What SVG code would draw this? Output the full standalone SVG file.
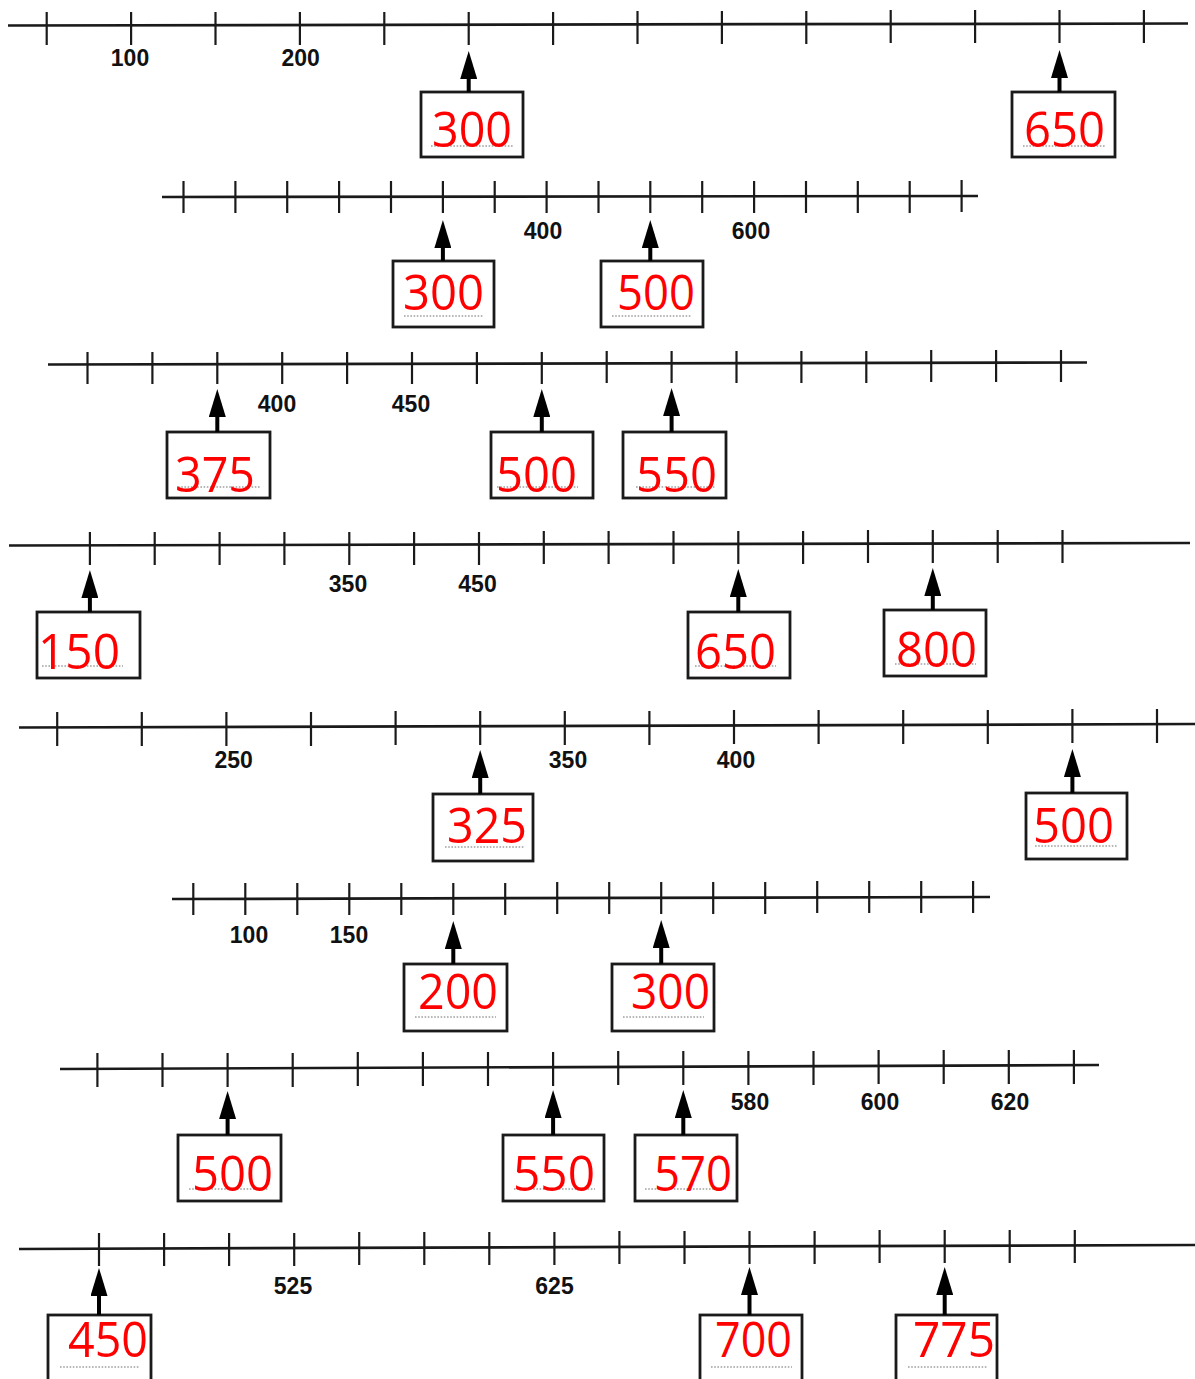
<svg xmlns="http://www.w3.org/2000/svg" width="1195" height="1379" viewBox="0 0 1195 1379">
<style>
.axis{stroke:#1a1a1a;stroke-width:2.7;fill:none}
.tick{stroke:#1a1a1a;stroke-width:2.2}
.lbl{font-family:"Liberation Sans",Arial,sans-serif;font-weight:bold;font-size:23px;fill:#111;text-anchor:middle}
.box{fill:#fff;stroke:#1a1a1a;stroke-width:2.8}
.ans{font-family:"Open Sans","Liberation Sans",sans-serif;font-size:50px;fill:#ff0000}
.dot{stroke:#a0a0a0;stroke-width:1.6;stroke-dasharray:1.6 1.6}
.arr{stroke:#000;stroke-width:4;fill:none;marker-end:url(#ah)}
</style>
<defs>
<marker id="ah" markerUnits="userSpaceOnUse" markerWidth="28" markerHeight="17" refX="1" refY="8.5" orient="auto" viewBox="0 0 28 17">
<path d="M0,0 L28,8.5 L0,17 z" fill="#000"/>
</marker>
</defs>
<rect width="1195" height="1379" fill="#fff"/>

<!-- Number line 1 -->
<g id="line1">
<line class="axis" x1="8" y1="25.5" x2="1188" y2="23.5"/>
<g class="tick">
<line x1="46.7" y1="12" x2="46.7" y2="45"/><line x1="131.1" y1="12" x2="131.1" y2="45"/><line x1="215.5" y1="12" x2="215.5" y2="45"/><line x1="299.9" y1="12" x2="299.9" y2="45"/><line x1="384.3" y1="12" x2="384.3" y2="45"/><line x1="468.7" y1="12" x2="468.7" y2="45"/><line x1="553.1" y1="12" x2="553.1" y2="45"/><line x1="637.5" y1="11" x2="637.5" y2="44"/><line x1="721.9" y1="11" x2="721.9" y2="44"/><line x1="806.3" y1="11" x2="806.3" y2="44"/><line x1="890.7" y1="10" x2="890.7" y2="43"/><line x1="975.1" y1="10" x2="975.1" y2="43"/><line x1="1059.5" y1="10" x2="1059.5" y2="43"/><line x1="1143.9" y1="10" x2="1143.9" y2="43"/>
</g>
<text class="lbl" x="130" y="66">100</text>
<text class="lbl" x="300.6" y="66">200</text>
</g>

<!-- Number line 2 -->
<g id="line2">
<line class="axis" x1="162" y1="197" x2="978" y2="196"/>
<g class="tick">
<line x1="183.5" y1="181" x2="183.5" y2="213"/><line x1="235.4" y1="181" x2="235.4" y2="213"/><line x1="287.2" y1="181" x2="287.2" y2="213"/><line x1="339.1" y1="181" x2="339.1" y2="213"/><line x1="391" y1="181" x2="391" y2="213"/><line x1="442.9" y1="181" x2="442.9" y2="213"/><line x1="494.7" y1="181" x2="494.7" y2="213"/><line x1="546.6" y1="181" x2="546.6" y2="213"/><line x1="598.5" y1="181" x2="598.5" y2="213"/><line x1="650.3" y1="181" x2="650.3" y2="213"/><line x1="702.2" y1="181" x2="702.2" y2="213"/><line x1="754.1" y1="181" x2="754.1" y2="213"/><line x1="806" y1="181" x2="806" y2="213"/><line x1="857.8" y1="181" x2="857.8" y2="213"/><line x1="909.7" y1="181" x2="909.7" y2="213"/><line x1="961.6" y1="180" x2="961.6" y2="212"/>
</g>
<text class="lbl" x="543" y="239">400</text>
<text class="lbl" x="751" y="239">600</text>
</g>

<!-- Number line 3 -->
<g id="line3">
<line class="axis" x1="48" y1="364.5" x2="1087" y2="362.5"/>
<g class="tick">
<line x1="87.5" y1="352" x2="87.5" y2="384"/><line x1="152.4" y1="352" x2="152.4" y2="384"/><line x1="217.3" y1="352" x2="217.3" y2="384"/><line x1="282.2" y1="352" x2="282.2" y2="384"/><line x1="347.1" y1="352" x2="347.1" y2="384"/><line x1="412" y1="352" x2="412" y2="384"/><line x1="476.9" y1="352" x2="476.9" y2="384"/><line x1="541.8" y1="352" x2="541.8" y2="384"/><line x1="606.7" y1="351" x2="606.7" y2="383"/><line x1="671.6" y1="351" x2="671.6" y2="383"/><line x1="736.5" y1="351" x2="736.5" y2="383"/><line x1="801.4" y1="351" x2="801.4" y2="383"/><line x1="866.3" y1="351" x2="866.3" y2="383"/><line x1="931.2" y1="350" x2="931.2" y2="382"/><line x1="996.1" y1="350" x2="996.1" y2="382"/><line x1="1061" y1="350" x2="1061" y2="382"/>
</g>
<text class="lbl" x="277" y="412">400</text>
<text class="lbl" x="411" y="412">450</text>
</g>

<!-- Number line 4 -->
<g id="line4">
<line class="axis" x1="9" y1="545.5" x2="1190" y2="543"/>
<g class="tick">
<line x1="89.9" y1="532" x2="89.9" y2="565"/><line x1="154.7" y1="532" x2="154.7" y2="565"/><line x1="219.6" y1="532" x2="219.6" y2="565"/><line x1="284.4" y1="532" x2="284.4" y2="565"/><line x1="349.3" y1="532" x2="349.3" y2="565"/><line x1="414.1" y1="532" x2="414.1" y2="565"/><line x1="479" y1="532" x2="479" y2="565"/><line x1="543.8" y1="531" x2="543.8" y2="564"/><line x1="608.6" y1="531" x2="608.6" y2="564"/><line x1="673.5" y1="531" x2="673.5" y2="564"/><line x1="738.3" y1="531" x2="738.3" y2="564"/><line x1="803.1" y1="531" x2="803.1" y2="564"/><line x1="868" y1="530" x2="868" y2="563"/><line x1="932.8" y1="530" x2="932.8" y2="563"/><line x1="997.7" y1="530" x2="997.7" y2="563"/><line x1="1062.5" y1="530" x2="1062.5" y2="563"/>
</g>
<text class="lbl" x="348" y="592">350</text>
<text class="lbl" x="477.5" y="592">450</text>
</g>

<!-- Number line 5 -->
<g id="line5">
<line class="axis" x1="19" y1="727.5" x2="1195" y2="724"/>
<g class="tick">
<line x1="57.2" y1="712" x2="57.2" y2="746"/><line x1="141.8" y1="712" x2="141.8" y2="746"/><line x1="226.4" y1="712" x2="226.4" y2="746"/><line x1="311" y1="712" x2="311" y2="746"/><line x1="395.6" y1="711" x2="395.6" y2="745"/><line x1="480.2" y1="711" x2="480.2" y2="745"/><line x1="564.8" y1="711" x2="564.8" y2="745"/><line x1="649.4" y1="711" x2="649.4" y2="745"/><line x1="734" y1="710" x2="734" y2="744"/><line x1="818.6" y1="710" x2="818.6" y2="744"/><line x1="903.2" y1="710" x2="903.2" y2="744"/><line x1="987.8" y1="710" x2="987.8" y2="744"/><line x1="1072.4" y1="709" x2="1072.4" y2="743"/><line x1="1157" y1="709" x2="1157" y2="743"/>
</g>
<text class="lbl" x="233.6" y="768">250</text>
<text class="lbl" x="568" y="768">350</text>
<text class="lbl" x="736" y="768">400</text>
</g>

<!-- Number line 6 -->
<g id="line6">
<line class="axis" x1="172" y1="899" x2="990" y2="897"/>
<g class="tick">
<line x1="193.3" y1="883" x2="193.3" y2="915"/><line x1="245.3" y1="883" x2="245.3" y2="915"/><line x1="297.3" y1="883" x2="297.3" y2="915"/><line x1="349.3" y1="883" x2="349.3" y2="915"/><line x1="401.3" y1="883" x2="401.3" y2="915"/><line x1="453.3" y1="883" x2="453.3" y2="915"/><line x1="505.2" y1="883" x2="505.2" y2="915"/><line x1="557.2" y1="882" x2="557.2" y2="914"/><line x1="609.2" y1="882" x2="609.2" y2="914"/><line x1="661.2" y1="882" x2="661.2" y2="914"/><line x1="713.2" y1="882" x2="713.2" y2="914"/><line x1="765.2" y1="882" x2="765.2" y2="914"/><line x1="817.2" y1="881" x2="817.2" y2="913"/><line x1="869.2" y1="881" x2="869.2" y2="913"/><line x1="921.2" y1="881" x2="921.2" y2="913"/><line x1="973.1" y1="881" x2="973.1" y2="913"/>
</g>
<text class="lbl" x="249" y="943">100</text>
<text class="lbl" x="349" y="943">150</text>
</g>

<!-- Number line 7 -->
<g id="line7">
<line class="axis" x1="60" y1="1069" x2="1099" y2="1065"/>
<g class="tick">
<line x1="97.4" y1="1053" x2="97.4" y2="1087"/><line x1="162.5" y1="1053" x2="162.5" y2="1087"/><line x1="227.6" y1="1053" x2="227.6" y2="1087"/><line x1="292.7" y1="1053" x2="292.7" y2="1087"/><line x1="357.8" y1="1052" x2="357.8" y2="1086"/><line x1="422.9" y1="1052" x2="422.9" y2="1086"/><line x1="488" y1="1052" x2="488" y2="1086"/><line x1="553.1" y1="1052" x2="553.1" y2="1086"/><line x1="618.2" y1="1051" x2="618.2" y2="1085"/><line x1="683.3" y1="1051" x2="683.3" y2="1085"/><line x1="748.4" y1="1051" x2="748.4" y2="1085"/><line x1="813.5" y1="1051" x2="813.5" y2="1085"/><line x1="878.6" y1="1050" x2="878.6" y2="1084"/><line x1="943.7" y1="1050" x2="943.7" y2="1084"/><line x1="1008.8" y1="1050" x2="1008.8" y2="1084"/><line x1="1073.9" y1="1050" x2="1073.9" y2="1084"/>
</g>
<text class="lbl" x="750" y="1110">580</text>
<text class="lbl" x="880" y="1110">600</text>
<text class="lbl" x="1010" y="1110">620</text>
</g>

<!-- Number line 8 -->
<g id="line8">
<line class="axis" x1="19" y1="1249" x2="1195" y2="1245"/>
<g class="tick">
<line x1="99" y1="1233" x2="99" y2="1266"/><line x1="164.1" y1="1233" x2="164.1" y2="1266"/><line x1="229.1" y1="1233" x2="229.1" y2="1266"/><line x1="294.2" y1="1233" x2="294.2" y2="1266"/><line x1="359.2" y1="1232" x2="359.2" y2="1265"/><line x1="424.3" y1="1232" x2="424.3" y2="1265"/><line x1="489.3" y1="1232" x2="489.3" y2="1265"/><line x1="554.4" y1="1232" x2="554.4" y2="1265"/><line x1="619.4" y1="1231" x2="619.4" y2="1264"/><line x1="684.5" y1="1231" x2="684.5" y2="1264"/><line x1="749.5" y1="1231" x2="749.5" y2="1264"/><line x1="814.6" y1="1231" x2="814.6" y2="1264"/><line x1="879.6" y1="1230" x2="879.6" y2="1263"/><line x1="944.7" y1="1230" x2="944.7" y2="1263"/><line x1="1009.7" y1="1230" x2="1009.7" y2="1263"/><line x1="1074.8" y1="1230" x2="1074.8" y2="1263"/>
</g>
<text class="lbl" x="293" y="1294">525</text>
<text class="lbl" x="554.5" y="1294">625</text>
</g>

<!-- Answer boxes -->
<g id="box-1a"><rect class="box" x="421" y="92" width="102" height="65"/><line class="dot" x1="431" y1="146" x2="513" y2="146"/><text class="ans" x="432" y="147" textLength="80" lengthAdjust="spacingAndGlyphs">300</text></g>
<g id="box-1b"><rect class="box" x="1012" y="92" width="103" height="65"/><line class="dot" x1="1023" y1="146" x2="1105" y2="146"/><text class="ans" x="1024" y="147" textLength="81" lengthAdjust="spacingAndGlyphs">650</text></g>

<g id="box-2a"><rect class="box" x="393" y="261" width="101" height="66"/><line class="dot" x1="404" y1="316" x2="484" y2="316"/><text class="ans" x="403" y="310" textLength="81" lengthAdjust="spacingAndGlyphs">300</text></g>
<g id="box-2b"><rect class="box" x="601" y="261" width="102" height="66"/><line class="dot" x1="612" y1="316" x2="692" y2="316"/><text class="ans" x="617" y="310" textLength="78" lengthAdjust="spacingAndGlyphs">500</text></g>

<g id="box-3a"><rect class="box" x="167" y="432" width="103" height="66"/><line class="dot" x1="178" y1="487" x2="260" y2="487"/><text class="ans" x="175" y="492" textLength="80" lengthAdjust="spacingAndGlyphs">375</text></g>
<g id="box-3b"><rect class="box" x="491" y="432" width="102" height="66"/><line class="dot" x1="497" y1="487" x2="578" y2="487"/><text class="ans" x="496" y="492" textLength="81" lengthAdjust="spacingAndGlyphs">500</text></g>
<g id="box-3c"><rect class="box" x="623" y="432" width="103" height="66"/><line class="dot" x1="636" y1="487" x2="716" y2="487"/><text class="ans" x="636" y="492" textLength="81" lengthAdjust="spacingAndGlyphs">550</text></g>

<g id="box-4a"><rect class="box" x="37" y="612" width="103" height="66"/><line class="dot" x1="42" y1="666" x2="123" y2="666"/><text class="ans" x="38" y="669" textLength="82" lengthAdjust="spacingAndGlyphs">150</text></g>
<g id="box-4b"><rect class="box" x="688" y="612" width="102" height="66"/><line class="dot" x1="695" y1="666" x2="776" y2="666"/><text class="ans" x="695" y="669" textLength="81" lengthAdjust="spacingAndGlyphs">650</text></g>
<g id="box-4c"><rect class="box" x="884" y="610" width="102" height="66"/><line class="dot" x1="895" y1="664" x2="976" y2="664"/><text class="ans" x="896" y="667" textLength="81" lengthAdjust="spacingAndGlyphs">800</text></g>

<g id="box-5a"><rect class="box" x="433" y="794" width="100" height="67"/><line class="dot" x1="445" y1="847" x2="525" y2="847"/><text class="ans" x="447" y="843" textLength="80" lengthAdjust="spacingAndGlyphs">325</text></g>
<g id="box-5b"><rect class="box" x="1026" y="793" width="101" height="66"/><line class="dot" x1="1035" y1="846" x2="1117" y2="846"/><text class="ans" x="1033" y="843" textLength="81" lengthAdjust="spacingAndGlyphs">500</text></g>

<g id="box-6a"><rect class="box" x="404" y="964" width="103" height="67"/><line class="dot" x1="415" y1="1017" x2="496" y2="1017"/><text class="ans" x="418" y="1009" textLength="80" lengthAdjust="spacingAndGlyphs">200</text></g>
<g id="box-6b"><rect class="box" x="612" y="964" width="102" height="67"/><line class="dot" x1="623" y1="1017" x2="704" y2="1017"/><text class="ans" x="631" y="1009" textLength="79" lengthAdjust="spacingAndGlyphs">300</text></g>

<g id="box-7a"><rect class="box" x="178" y="1135" width="103" height="66"/><line class="dot" x1="189" y1="1189" x2="269" y2="1189"/><text class="ans" x="192" y="1191" textLength="81" lengthAdjust="spacingAndGlyphs">500</text></g>
<g id="box-7b"><rect class="box" x="503" y="1135" width="101" height="66"/><line class="dot" x1="514" y1="1189" x2="595" y2="1189"/><text class="ans" x="513" y="1191" textLength="82" lengthAdjust="spacingAndGlyphs">550</text></g>
<g id="box-7c"><rect class="box" x="635" y="1135" width="102" height="66"/><line class="dot" x1="645" y1="1189" x2="726" y2="1189"/><text class="ans" x="654" y="1191" textLength="78" lengthAdjust="spacingAndGlyphs">570</text></g>

<g id="box-8a"><rect class="box" x="48" y="1315" width="103" height="80"/><line class="dot" x1="60" y1="1367" x2="140" y2="1367"/><text class="ans" x="68" y="1357" textLength="80" lengthAdjust="spacingAndGlyphs">450</text></g>
<g id="box-8b"><rect class="box" x="700" y="1315" width="102" height="80"/><line class="dot" x1="711" y1="1367" x2="792" y2="1367"/><text class="ans" x="715" y="1357" textLength="77" lengthAdjust="spacingAndGlyphs">700</text></g>
<g id="box-8c"><rect class="box" x="896" y="1315" width="101" height="80"/><line class="dot" x1="908" y1="1367" x2="988" y2="1367"/><text class="ans" x="913" y="1357" textLength="82" lengthAdjust="spacingAndGlyphs">775</text></g>

<!-- Connectors (arrows) -->
<g id="connectors">
<line class="arr" x1="468.7" y1="92" x2="468.7" y2="78"/>
<line class="arr" x1="1059.5" y1="92" x2="1059.5" y2="77"/>
<line class="arr" x1="442.9" y1="261" x2="442.9" y2="247"/>
<line class="arr" x1="650.3" y1="261" x2="650.3" y2="247"/>
<line class="arr" x1="217.3" y1="432" x2="217.3" y2="416"/>
<line class="arr" x1="541.8" y1="432" x2="541.8" y2="416"/>
<line class="arr" x1="671.6" y1="432" x2="671.6" y2="415"/>
<line class="arr" x1="89.9" y1="612" x2="89.9" y2="597"/>
<line class="arr" x1="738.3" y1="612" x2="738.3" y2="596"/>
<line class="arr" x1="932.8" y1="610" x2="932.8" y2="595"/>
<line class="arr" x1="480.2" y1="794" x2="480.2" y2="777"/>
<line class="arr" x1="1072.4" y1="793" x2="1072.4" y2="776"/>
<line class="arr" x1="453.3" y1="964" x2="453.3" y2="948"/>
<line class="arr" x1="661.2" y1="964" x2="661.2" y2="947"/>
<line class="arr" x1="227.6" y1="1135" x2="227.6" y2="1118"/>
<line class="arr" x1="553.1" y1="1135" x2="553.1" y2="1117"/>
<line class="arr" x1="683.3" y1="1135" x2="683.3" y2="1117"/>
<line class="arr" x1="99" y1="1315" x2="99" y2="1295"/>
<line class="arr" x1="749.5" y1="1315" x2="749.5" y2="1294"/>
<line class="arr" x1="944.7" y1="1315" x2="944.7" y2="1294"/>
</g>
</svg>
